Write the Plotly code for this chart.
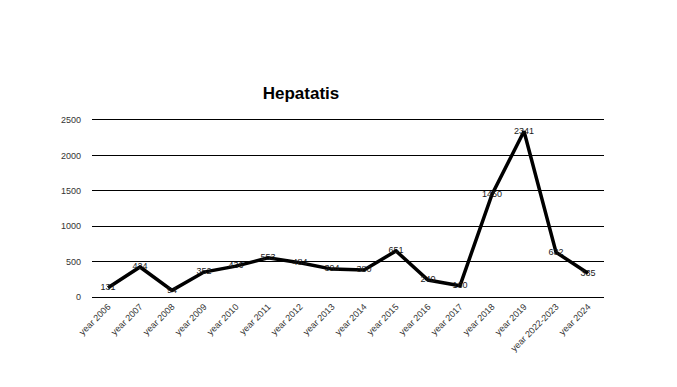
import plotly.graph_objects as go

categories = ["year 2006", "year 2007", "year 2008", "year 2009", "year 2010", "year 2011",
              "year 2012", "year 2013", "year 2014", "year 2015", "year 2016", "year 2017",
              "year 2018", "year 2019", "year 2022-2023", "year 2024"]
values = [131, 424, 94, 352, 436, 553, 484, 394, 380, 651, 240, 160, 1450, 2341, 632, 335]
y_ticks = [0, 500, 1000, 1500, 2000, 2500]

fig = go.Figure()
fig.add_trace(go.Scatter(
    x=categories, y=values, mode="lines+text",
    line=dict(color="black", width=3.5),
    text=[str(v) for v in values], textposition="middle center",
    textfont=dict(family="Liberation Sans, Arial, sans-serif", size=9, color="#1a1a1a"),
    cliponaxis=False, hoverinfo="x+y", showlegend=False,
))

fig.update_layout(
    width=677, height=387,
    margin=dict(l=84, r=81, t=112, b=98),
    paper_bgcolor="white", plot_bgcolor="white",
    title=dict(text="<b>Hepatatis</b>", x=293 / 677, xref="container", xanchor="center",
               y=1 - 85 / 387, yref="container", yanchor="middle",
               font=dict(family="Liberation Sans, Arial, sans-serif", size=17, color="black")),
    xaxis=dict(type="category", tickangle=-45, showgrid=False, showline=True, mirror=True,
               linecolor="black", linewidth=1, ticks="", automargin=False,
               range=[-0.5, len(categories) - 0.5],
               tickfont=dict(family="Liberation Sans, Arial, sans-serif", size=9, color="#333")),
    yaxis=dict(range=[0, 2500], tickvals=y_ticks, showgrid=True, gridcolor="black",
               gridwidth=1, zeroline=False, showline=False, ticks="", ticklabelstandoff=10,
               automargin=False,
               tickfont=dict(family="Liberation Sans, Arial, sans-serif", size=9, color="#333")),
)

fig.write_html("out.html")
